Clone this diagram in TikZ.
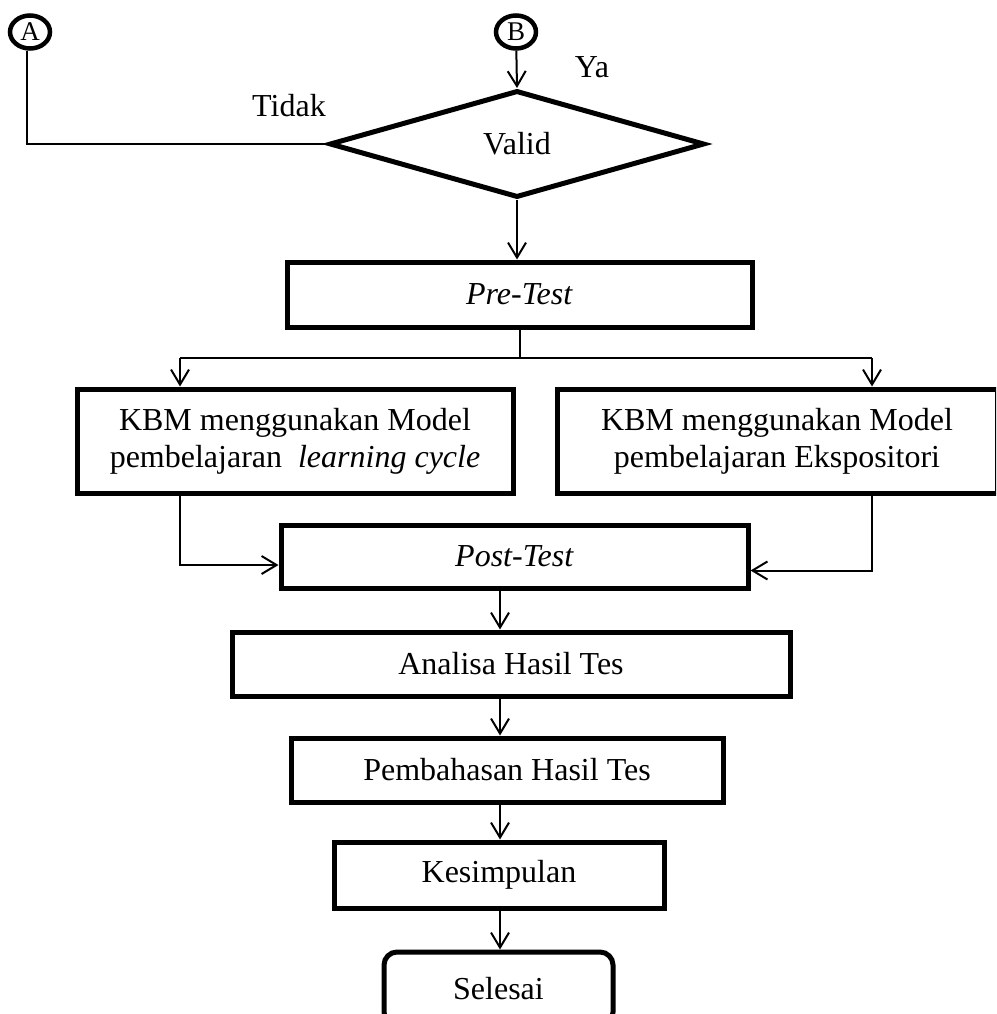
\documentclass[tikz,border=0pt]{standalone}
\usepackage{fontspec}
\setmainfont{Liberation Serif}
\usetikzlibrary{shapes.geometric, arrows.meta}
\tikzstyle{connector} = [ellipse, minimum width=40pt, minimum height=33pt, inner sep=0pt, draw=black, line width=4.5pt, font=\fontsize{27}{29}\selectfont]
\tikzstyle{decision} = [diamond, aspect=3.5, minimum width=375pt, minimum height=107pt, inner sep=0pt, draw=black, line width=5pt]
\tikzstyle{process} = [rectangle, inner sep=0pt, text centered, align=center, draw=black, line width=5pt]
\tikzstyle{startstop} = [rectangle, rounded corners=13pt, inner sep=0pt, text centered, draw=black, line width=5pt]
\tikzstyle{answer} = [draw=none, inner sep=0pt]
\tikzstyle{line} = [line width=2pt]
\tikzstyle{arrow} = [line width=2pt, -{Straight Barb[length=15pt, width=18pt]}]

\begin{document}
\begin{tikzpicture}[x=1pt, y=-1pt, font=\fontsize{32}{37}\selectfont]
	\useasboundingbox (0,0) rectangle (996,1014);
	\clip (0,0) rectangle (996,1014);

	\node (A) [connector] at (30,32) {A};
	\node (B) [connector] at (516,32) {B};
	\node (valid) [decision] at (517,144) {Valid};
	\node (ya) [answer] at (592,67) {Ya};
	\node (tidak) [answer] at (289,106) {Tidak};
	\draw [arrow] (B) -- (valid.north);
	\draw [line] (A.south -| 27,0) |- (valid.west);

	\node (pre) [process, minimum width=465pt, minimum height=65pt] at (519.5,294.5) {\textit{Pre-Test}};
	\draw [arrow] (valid.south) -- (valid.south |- pre.north);

	\node (lc) [process, minimum width=436pt, minimum height=104pt] at (295,441) {KBM menggunakan Model\\pembelajaran~ \textit{learning cycle}};
	\node (ex) [process, minimum width=440pt, minimum height=104pt] at (777,441) {KBM menggunakan Model\\pembelajaran Ekspositori};
	\coordinate (splitL) at (180,358);
	\coordinate (splitR) at (872,358);
	\draw [line] (pre.south) -- (pre.south |- splitL);
	\draw [line] (splitL) -- (splitR);
	\draw [arrow] (splitL) -- (splitL |- lc.north);
	\draw [arrow] (splitR) -- (splitR |- ex.north);

	\node (post) [process, minimum width=467pt, minimum height=63pt] at (514.5,556.5) {\textit{Post-Test}};
	\draw [arrow] (lc.south -| splitL) |- ([yshift=-8.5pt]post.west);
	\draw [arrow] (ex.south -| splitR) |- ([yshift=-14pt]post.east);

	\coordinate (spine) at (500,0);
	\node (ana) [process, minimum width=558pt, minimum height=64pt] at (511,664) {Analisa Hasil Tes};
	\node (pem) [process, minimum width=432pt, minimum height=64pt] at (507,770) {Pembahasan Hasil Tes};
	\node (kes) [process, minimum width=330pt, minimum height=66pt] at (499,875) {Kesimpulan};
	\node (sel) [startstop, minimum width=229pt, minimum height=73pt] at (498.5,988.5) {Selesai};
	\draw [arrow] (post.south -| spine) -- (ana.north -| spine);
	\draw [arrow] (ana.south -| spine) -- (pem.north -| spine);
	\draw [arrow] (pem.south -| spine) -- (kes.north -| spine);
	\draw [arrow] (kes.south -| spine) -- (sel.north -| spine);
\end{tikzpicture}
\end{document}
